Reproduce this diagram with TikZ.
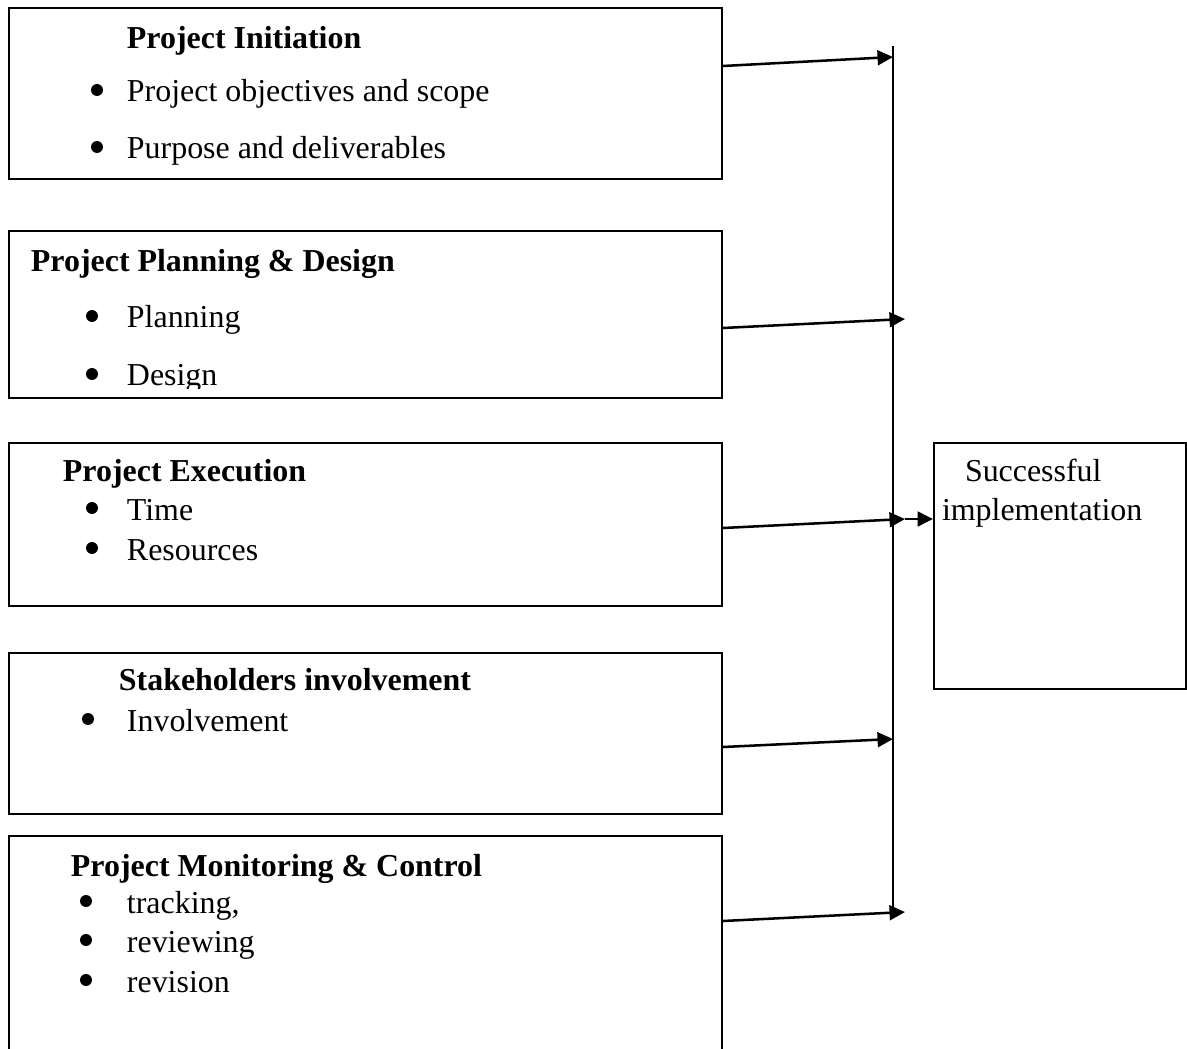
\documentclass[tikz,border=0pt]{standalone}
\usepackage{fontspec}
\setmainfont{Liberation Serif}
\usetikzlibrary{arrows.meta, fit}

\begin{document}
\begin{tikzpicture}[x=0.025cm, y=-0.025cm, line width=1.4pt,
	box/.style={draw, inner sep=0pt},
	txt/.style={anchor=base west, inner sep=0pt, font=\fontsize{22.7}{27}\selectfont},
	head/.style={txt, font=\fontsize{22.7}{27}\selectfont\bfseries},
	dot/.style={circle, fill, inner sep=0pt, minimum size=8.5pt},
	arr/.style={line width=1.8pt, -{Triangle[length=11pt, width=10.5pt]}}]
			\useasboundingbox (0,0) rectangle (1187,1049);
			% left boxes
			\node[box, fit={(9,8) (722,179)}] (init) {};
			\node[box, fit={(9,231) (722,398)}] (plan) {};
			\node[box, fit={(9,443) (722,606)}] (exec) {};
			\node[box, fit={(9,653) (722,814)}] (stake) {};
			\node[box, fit={(9,836) (722,1070)}] (monit) {};
			% project initiation
			\node[head] (initH) at (126,49) {Project Initiation};
			\node[dot] (initB1) at (97,90) {};
			\node[txt] (initL1) at (126,102) {Project objectives and scope};
			\node[dot] (initB2) at (97,147) {};
			\node[txt] (initL2) at (126,159) {Purpose and deliverables};
			% planning and design
			\node[head] (planH) at (30,272) {Project Planning \& Design};
			\node[dot] (planB1) at (92,316) {};
			\node[txt] (planL1) at (126,328) {Planning};
			\begin{scope}
				\clip (9,231) rectangle (722,388);
				\node[dot] (planB2) at (92,374) {};
				\node[txt] (planL2) at (126,386) {Design};
			\end{scope}
			% execution
			\node[head] (execH) at (62,481) {Project Execution};
			\node[dot] (execB1) at (92,508) {};
			\node[txt] (execL1) at (126,520) {Time};
			\node[dot] (execB2) at (92,548) {};
			\node[txt] (execL2) at (126,560) {Resources};
			% stakeholders
			\node[head] (stakeH) at (118,690) {Stakeholders involvement};
			\node[dot] (stakeB1) at (88,719) {};
			\node[txt] (stakeL1) at (126,731) {Involvement};
			% monitoring and control
			\node[head] (monitH) at (70,876) {Project Monitoring \& Control};
			\node[dot] (monitB1) at (86,901) {};
			\node[txt] (monitL1) at (126,913) {tracking,};
			\node[dot] (monitB2) at (86,940) {};
			\node[txt] (monitL2) at (126,952) {reviewing};
			\node[dot] (monitB3) at (86,980) {};
			\node[txt] (monitL3) at (126,992) {revision};
			% result
			\node[box, fit={(934,443) (1186,689)}] (result) {};
			\node[txt] (resL1) at (964,481) {Successful};
			\node[txt] (resL2) at (941,520) {implementation};
			% bus and arrows
			\coordinate (bustop) at (893,46);
			\coordinate (busbot) at (893,916);
			\draw (bustop) -- (busbot);
			\coordinate (in1) at (893,57);
			\coordinate (in2) at (905,319);
			\coordinate (in3) at (905,519);
			\coordinate (in4) at (893,739);
			\coordinate (in5) at (905,912);
			\draw[arr] (init.east |- 0,66) -- (in1);
			\draw[arr] (plan.east |- 0,328) -- (in2);
			\draw[arr] (exec.east |- 0,528) -- (in3);
			\draw[arr] (stake.east |- 0,747) -- (in4);
			\draw[arr] (monit.east |- 0,921) -- (in5);
			\draw[arr] (in3) -- (result.west |- in3);
\end{tikzpicture}
\end{document}
